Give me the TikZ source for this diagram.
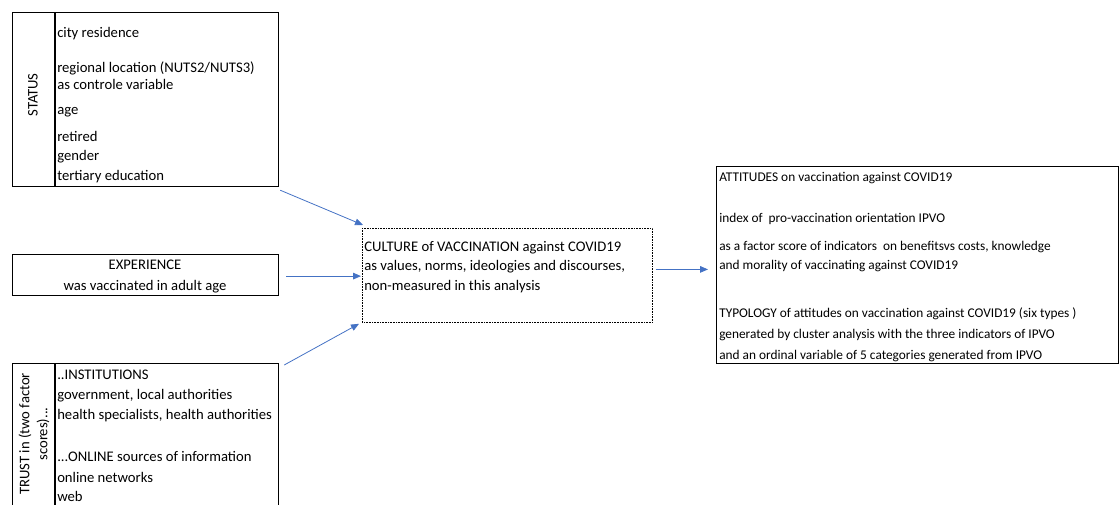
\documentclass[tikz,border=0pt]{standalone}
\usepackage{fontspec}
\setmainfont{Carlito}
\usetikzlibrary{arrows.meta,calc}
\definecolor{arrblue}{RGB}{68,114,196}
\begin{document}
\begin{tikzpicture}[x=0.75pt,y=-0.75pt,
  box/.style={draw=black,line width=0.9pt,inner sep=0pt,anchor=north west},
  dotbox/.style={draw=black,line width=0.6pt,dash pattern=on 0.6pt off 0.6pt,inner sep=0pt,anchor=north west},
  txt/.style={inner sep=0pt,anchor=base west,font=\fontsize{11}{13}\selectfont},
  stxt/.style={inner sep=0pt,anchor=base west,font=\fontsize{10}{12}\selectfont},
  ctxt/.style={inner sep=0pt,anchor=base,font=\fontsize{11}{13}\selectfont},
  rot/.style={inner sep=0pt,rotate=90,align=center,font=\fontsize{11}{13.5}\selectfont},
  arr/.style={draw=arrblue,line width=0.6pt,-{Triangle[length=6pt,width=5pt]}}]
\useasboundingbox (0,0) rectangle (1120,504);
% boxes
\node[box,minimum width=199.5pt,minimum height=130.5pt] (status) at (12,12) {};
\node[box,minimum width=199.5pt,minimum height=30.75pt] (experience) at (12,254) {};
\node[box,minimum width=199.5pt,minimum height=107.25pt] (trust) at (12,363) {};
\node[dotbox,minimum width=217.5pt,minimum height=70.5pt] (culture) at (362,228) {};
\node[box,minimum width=301.5pt,minimum height=147.75pt] (attitudes) at (716,166) {};
% dividers
\draw[line width=0.9pt] ($(status.north west)+(43,0)$) -- ($(status.south west)+(43,0)$);
\draw[line width=0.9pt] ($(trust.north west)+(43,0)$) -- ($(trust.south west)+(43,0)$);
% STATUS
\node[rot] (statuslbl) at (33,95) {STATUS};
\node[txt] (s1) at (57,37) {city residence};
\node[txt] (s2) at (57,72) {regional location (NUTS2/NUTS3)};
\node[txt] (s3) at (57,89) {as controle variable};
\node[txt] (s4) at (57,114) {age};
\node[txt] (s5) at (57,141) {retired};
\node[txt] (s6) at (57,160) {gender};
\node[txt] (s7) at (57,180) {tertiary education};
% EXPERIENCE
\node[ctxt] (e1) at (145,269) {EXPERIENCE};
\node[ctxt] (e2) at (145,290) {was vaccinated in adult age};
% TRUST
\node[rot] (trustlbl) at (34,434) {TRUST in (two factor\\scores)...};
\node[txt] (t1) at (57,379) {..INSTITUTIONS};
\node[txt] (t2) at (57,399) {government, local authorities};
\node[txt] (t3) at (57,419) {health specialists, health authorities};
\node[txt] (t4) at (57,461) {...ONLINE sources of information};
\node[txt] (t5) at (57,482) {online networks};
\node[txt] (t6) at (57,501) {web};
% CULTURE
\node[txt] (c1) at (364,251) {CULTURE of VACCINATION against COVID19};
\node[txt] (c2) at (364,270) {as values, norms, ideologies and discourses,};
\node[txt] (c3) at (364,290) {non-measured in this analysis};
% ATTITUDES
\node[stxt] (a1) at (719,181) {ATTITUDES on vaccination against COVID19};
\node[stxt] (a2) at (719,222) {index of\ \ pro-vaccination orientation IPVO};
\node[stxt] (a3) at (719,250) {as a factor score of indicators\ \ on benefitsvs costs, knowledge};
\node[stxt] (a4) at (719,269) {and morality of vaccinating against COVID19};
\node[stxt] (a5) at (719,317) {TYPOLOGY of attitudes on vaccination against COVID19 (six types )};
\node[stxt] (a6) at (719,338) {generated by cluster analysis with the three indicators of IPVO};
\node[stxt] (a7) at (719,359) {and an ordinal variable of 5 categories generated from IPVO};
% connectors
\draw[arr] ($(status.south east)+(1,3)$) -- ($(culture.north west)+(1,-3)$);
\draw[arr] ($(experience.east)+(7,1)$) -- ($(experience.east -| culture.west)+(-1,1)$);
\draw[arr] ($(trust.north east)+(5,2)$) -- ($(culture.south west)+(-3,1)$);
\draw[arr] ($(culture.east)+(3,-6)$) -- ($(culture.east -| attitudes.west)+(-8,-6)$);
\end{tikzpicture}
\end{document}
